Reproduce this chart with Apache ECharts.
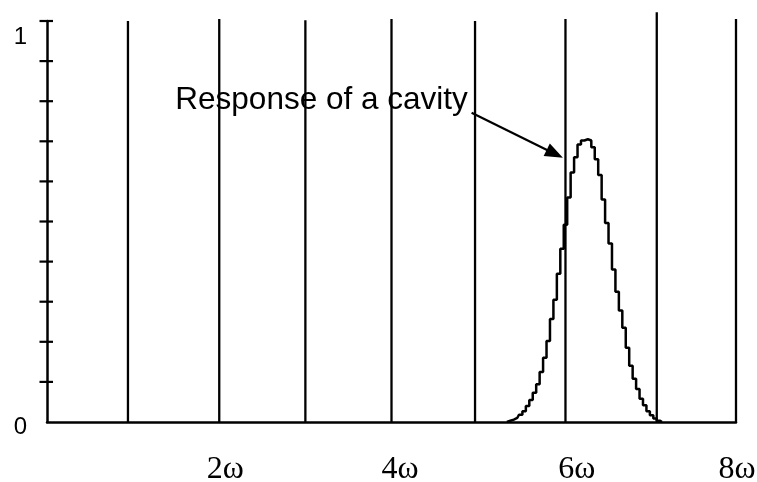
<!DOCTYPE html>
<html><head><meta charset="utf-8">
<script src="https://cdn.jsdelivr.net/npm/echarts@6/dist/echarts.min.js"></script>
<style>html,body{margin:0;padding:0;background:#fff}#c{width:757px;height:482px}</style>
</head><body><div id="c"></div>
<script>
// Cavity mode frequencies (in units of ω) and the heights of their lines
const modePositions = [0.94, 2.0, 3.0, 4.0, 4.97, 6.02, 7.08, 8.0];
const modeHeights   = [1.0, 1.005, 1.002, 1.005, 1.0, 1.005, 1.022, 1.005];

// Stepped response of the cavity
const responseX = [5.34,5.38,5.42,5.46,5.50,5.54,5.58,5.62,5.66,5.70,5.74,5.78,5.82,5.86,5.90,5.94,5.98,6.02,6.06,6.10,6.14,6.18,6.22,6.26,6.30,6.34,6.38,6.42,6.46,6.50,6.54,6.58,6.62,6.66,6.70,6.74,6.78,6.82,6.86,6.90,6.94,6.98,7.02,7.06,7.10,7.14];
const responseY = [0,0.003,0.006,0.010,0.018,0.027,0.040,0.055,0.073,0.094,0.125,0.160,0.202,0.257,0.305,0.370,0.432,0.492,0.560,0.622,0.660,0.692,0.702,0.705,0.702,0.685,0.655,0.616,0.555,0.496,0.445,0.380,0.325,0.278,0.235,0.185,0.140,0.108,0.082,0.058,0.042,0.027,0.017,0.009,0.003,0];

// Axis ticks and labels
const xTickValues = [2, 4, 6, 8];
const xTickLabels = ['2ω', '4ω', '6ω', '8ω'];
const yTickValues = [0.1,0.2,0.3,0.4,0.5,0.6,0.7,0.8,0.9,1.0];
const yLabelValues = [0, 1];
const yLabelTexts = ['0', '1'];

// Annotation
const annotationText = 'Response of a cavity';
const annotationAnchor = [1.49, 0.803];
const annotationArrow = [[4.93, 0.771], [5.99, 0.659]];

const chart = echarts.init(document.getElementById('c'), null, {renderer: 'canvas'});

const xRich = {
  t0: {fontFamily: 'Liberation Serif', fontSize: 32, color: '#000', padding: [0,0,0,12]},
  t1: {fontFamily: 'Liberation Serif', fontSize: 32, color: '#000', padding: [0,0,0,17]},
  t2: {fontFamily: 'Liberation Serif', fontSize: 32, color: '#000', padding: [0,0,0,26]},
  t3: {fontFamily: 'Liberation Serif', fontSize: 32, color: '#000', padding: [0,0,0,2]}
};
const yRich = {
  y0: {fontFamily: 'Liberation Sans', fontSize: 24, color: '#000', padding: [10,0,0,0]},
  y1: {fontFamily: 'Liberation Sans', fontSize: 24, color: '#000', padding: [33,0,0,0]}
};

chart.setOption({
  animation: false,
  backgroundColor: '#fff',
  grid: {left: 47, right: 21, top: 21, bottom: 60, containLabel: false, outerBoundsMode: 'none'},
  xAxis: {
    type: 'value', min: 0, max: 8, interval: 2,
    axisLine: {show: true, onZero: false, lineStyle: {color: '#000', width: 2.5}},
    axisTick: {show: false},
    splitLine: {show: false},
    axisLabel: {
      showMinLabel: true, showMaxLabel: true, hideOverlap: false,
      margin: 32, fontFamily: 'Liberation Serif', fontSize: 32, color: '#000',
      formatter: function (v) {
        const i = xTickValues.indexOf(v);
        return i < 0 ? '' : '{t' + i + '|' + xTickLabels[i] + '}';
      },
      rich: xRich
    }
  },
  yAxis: {
    type: 'value', min: 0, max: 1, interval: 0.1,
    axisLine: {show: true, onZero: false, lineStyle: {color: '#000', width: 2.5}},
    axisTick: {show: false},
    splitLine: {show: false},
    axisLabel: {
      margin: 20, fontFamily: 'Liberation Sans', fontSize: 24, color: '#000',
      showMinLabel: true, showMaxLabel: true,
      formatter: function (v) {
        const i = yLabelValues.findIndex(function (u) { return Math.abs(u - v) < 1e-9; });
        return i < 0 ? '' : '{y' + i + '|' + yLabelTexts[i] + '}';
      },
      rich: yRich
    }
  },
  series: [
    {
      type: 'custom', name: 'modes', clip: false, silent: true,
      data: modePositions.map(function (x, i) { return [x, modeHeights[i]]; }),
      renderItem: function (params, api) {
        const a = api.coord([api.value(0), 0]);
        const b = api.coord([api.value(0), api.value(1)]);
        return {type: 'line', shape: {x1: a[0], y1: a[1], x2: b[0], y2: b[1]},
                style: {stroke: '#000', lineWidth: 2.3}};
      }
    },
    {
      type: 'custom', name: 'yticks', clip: false, silent: true,
      data: yTickValues.map(function (v) { return [0, v]; }),
      renderItem: function (params, api) {
        const p = api.coord([0, api.value(1)]);
        return {type: 'line', shape: {x1: p[0] - 7.5, y1: p[1], x2: p[0] + 6, y2: p[1]},
                style: {stroke: '#000', lineWidth: 2.2}};
      }
    },
    {
      type: 'line', name: 'response', step: 'middle', showSymbol: false, silent: true,
      data: responseX.map(function (x, i) { return [x, responseY[i]]; }),
      lineStyle: {color: '#000', width: 2.5}
    },
    {
      type: 'custom', name: 'annotation', clip: false, silent: true,
      data: [[annotationAnchor[0], annotationAnchor[1], annotationArrow[0][0], annotationArrow[0][1], annotationArrow[1][0], annotationArrow[1][1]]],
      renderItem: function (params, api) {
        const t = api.coord([api.value(0), api.value(1)]);
        const s = api.coord([api.value(2), api.value(3)]);
        const e = api.coord([api.value(4), api.value(5)]);
        const dx = e[0] - s[0], dy = e[1] - s[1];
        const len = Math.sqrt(dx * dx + dy * dy);
        const ux = dx / len, uy = dy / len;
        const L = 18, W = 7;
        const bx = e[0] - ux * L, by = e[1] - uy * L;
        return {type: 'group', children: [
          {type: 'text', style: {x: t[0], y: t[1], text: annotationText, fill: '#000',
            font: '31.5px "Liberation Sans"', align: 'left', verticalAlign: 'middle'}},
          {type: 'line', shape: {x1: s[0], y1: s[1], x2: bx + ux * 2, y2: by + uy * 2},
            style: {stroke: '#000', lineWidth: 2.2}},
          {type: 'polygon', shape: {points: [[e[0], e[1]], [bx - uy * W, by + ux * W], [bx + uy * W, by - ux * W]]},
            style: {fill: '#000'}}
        ]};
      }
    }
  ]
});
</script>
</body></html>
